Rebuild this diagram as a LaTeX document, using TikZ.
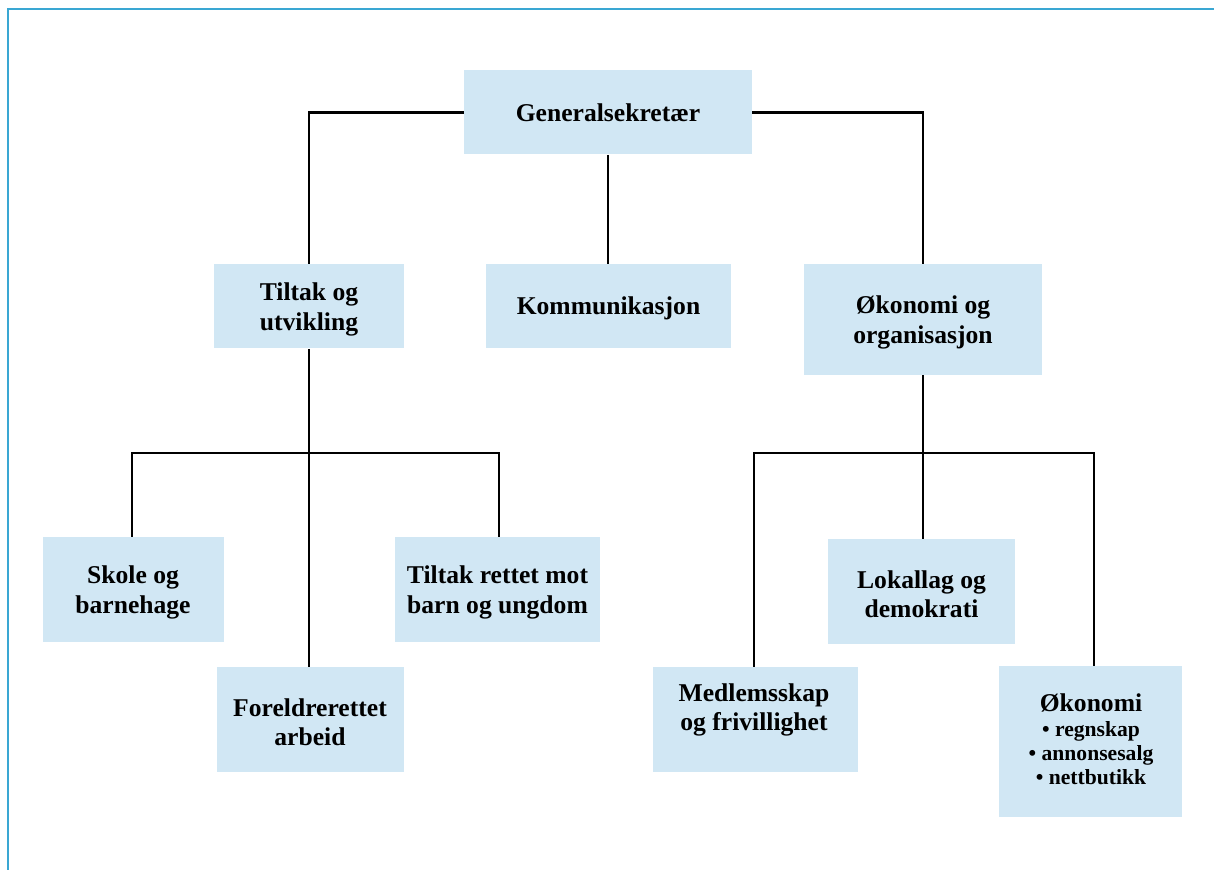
\documentclass[tikz,border=0pt]{standalone}
\usepackage{fontspec}
\setmainfont{Liberation Serif}
\definecolor{boxfill}{RGB}{209,231,244}
\definecolor{framecol}{RGB}{58,167,211}
\newcommand{\topstrut}{\rule{0pt}{11.8pt}}
\begin{document}
\begin{tikzpicture}[x=0.5pt,y=-0.5pt,
  box/.style={fill=boxfill, draw=none, inner sep=0pt, align=center,
    font=\fontsize{12.8}{14.7}\selectfont\bfseries},
  txt/.style={inner sep=0pt, align=center, font=\fontsize{12.8}{14.7}\selectfont\bfseries},
  itm/.style={inner sep=0pt, anchor=base, font=\fontsize{10.8}{12}\selectfont\bfseries},
  conn/.style={line width=1.3pt, black}]
\useasboundingbox (0,0) rectangle (1214,870);
% frame
\draw[framecol, line width=1pt] (1214,9) -- (8,9) -- (8,870);
% boxes
\node[box, minimum width=144pt, minimum height=42pt] (gs) at (608,112.5) {Generalsekretær};
\node[box, minimum width=95pt, minimum height=42pt] (tu) at (309,306.5) {\topstrut Tiltak og\\utvikling};
\node[box, minimum width=122.5pt, minimum height=42pt] (ko) at (608.5,306.5) {\rule{0pt}{10.5pt}Kommunikasjon};
\node[box, minimum width=119pt, minimum height=55.5pt] (oo) at (923,319.5) {\topstrut Økonomi og\\organisasjon};
\node[box, minimum width=90.5pt, minimum height=52.5pt] (sb) at (133,589.5) {\topstrut Skole og\\barnehage};
\node[box, minimum width=93.5pt, minimum height=52.5pt] (fa) at (310,719.5) {\topstrut Foreldrerettet\\arbeid};
\node[box, minimum width=102.5pt, minimum height=52.5pt] (tr) at (497.5,589.5) {\topstrut Tiltak rettet mot\\barn og ungdom};
\node[box, minimum width=93.5pt, minimum height=52.5pt] (ld) at (921.5,591.5) {\topstrut Lokallag og\\demokrati};
\node[box, minimum width=102.5pt, minimum height=52.5pt] (mf) at (755.5,719.5) {};
\node[txt] (mft) at (754,710) {Medlemsskap\\og frivillighet};
\node[box, minimum width=91.5pt, minimum height=75.5pt] (ok) at (1090.5,741.5) {};
\node[txt, anchor=base] (ok1) at (1091,711) {Økonomi};
\node[itm] (ok2) at (1091,736) {• regnskap};
\node[itm] (ok3) at (1091,760) {• annonsesalg};
\node[itm] (ok4) at (1091,784) {• nettbutikk};
% junction points
\coordinate (bl) at (132,453);
\coordinate (br) at (499,453);
\coordinate (cl) at (754,453);
\coordinate (cr) at (1094,453);
% connectors
\draw[conn] (gs.west) -| (tu.north);
\draw[conn] (gs.east) -| (oo.north);
\draw[conn] (gs.south) -- (gs.south |- ko.north);
\draw[conn] (tu.south) -- (tu.south |- fa.north);
\draw[conn] (bl |- sb.north) -- (bl) -- (br) -- (br |- tr.north);
\draw[conn] (oo.south) -- (oo.south |- ld.north);
\draw[conn] (cl |- mf.north) -- (cl) -- (cr) -- (cr |- ok.north);
\end{tikzpicture}
\end{document}
